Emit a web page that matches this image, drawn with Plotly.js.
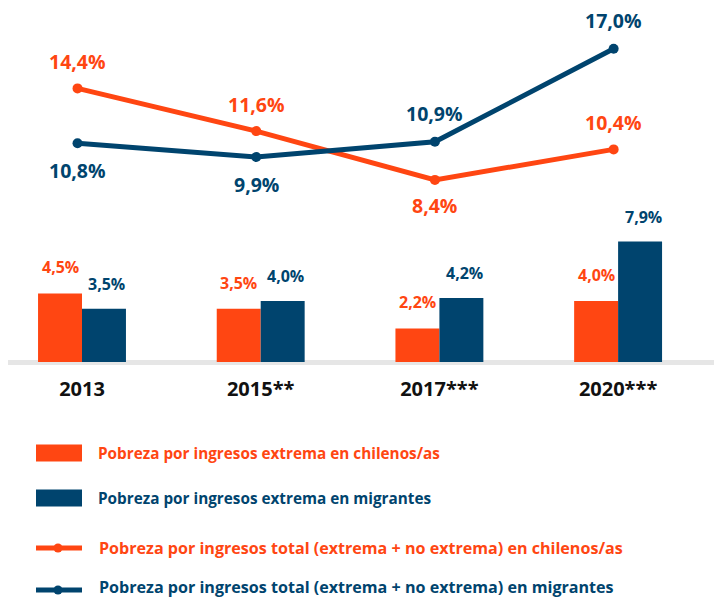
<!DOCTYPE html>
<html>
<head>
<meta charset="utf-8">
<script src="https://cdn.plot.ly/plotly-3.0.1.min.js"></script>
<style>html,body{margin:0;padding:0;background:#fff;}#chart{width:714px;height:597px;}</style>
</head>
<body>
<div id="chart"></div>
<script>
// ---- data ----
const categories = ['2013', '2015**', '2017***', '2020***'];
const extremaChilenos = [4.5, 3.5, 2.2, 4.0];
const extremaMigrantes = [3.5, 4.0, 4.2, 7.9];
const totalChilenos = [14.4, 11.6, 8.4, 10.4];
const totalMigrantes = [10.8, 9.9, 10.9, 17.0];
const seriesNames = [
  'Pobreza por ingresos extrema en chilenos/as',
  'Pobreza por ingresos extrema en migrantes',
  'Pobreza por ingresos total (extrema + no extrema) en chilenos/as',
  'Pobreza por ingresos total (extrema + no extrema) en migrantes'
];

// ---- style ----
const ORANGE = '#FF4612';
const BLUE = '#00446E';
const FONT = 'Open Sans, Noto Sans, sans-serif';
const W = 714, H = 597;
const M = {l: 8, r: 0, t: 0, b: 233};
const plotW = W - M.l - M.r, plotH = H - M.t - M.b;
const pxPerUnitY = 15.25;
const barW = 0.246;
const lineShift = -0.025;
// side of line labels: 1 above, -1 below
const sideChilenos = [1, 1, -1, 1];
const sideMigrantes = [-1, -1, 1, 1];

const xIdx = categories.map((c, i) => i);
const fmt = v => v.toFixed(1).replace('.', ',') + '%';

const traces = [
  {type: 'bar', x: xIdx, y: extremaChilenos, width: barW, offset: -barW,
   marker: {color: ORANGE}, name: seriesNames[0], hoverinfo: 'none'},
  {type: 'bar', x: xIdx, y: extremaMigrantes, width: barW, offset: 0,
   marker: {color: BLUE}, name: seriesNames[1], hoverinfo: 'none'},
  {type: 'scatter', mode: 'lines+markers', x: xIdx.map(i => i + lineShift), y: totalChilenos,
   yaxis: 'y2', line: {color: ORANGE, width: 5}, marker: {color: ORANGE, size: 10},
   name: seriesNames[2], hoverinfo: 'none'},
  {type: 'scatter', mode: 'lines+markers', x: xIdx.map(i => i + lineShift), y: totalMigrantes,
   yaxis: 'y2', line: {color: BLUE, width: 5}, marker: {color: BLUE, size: 10},
   name: seriesNames[3], hoverinfo: 'none'}
];

const annotations = [];
// bar labels
xIdx.forEach(i => {
  annotations.push({x: i - barW / 2, y: extremaChilenos[i], xref: 'x', yref: 'y',
    text: fmt(extremaChilenos[i]), showarrow: false, yanchor: 'middle', yshift: 26,
    font: {family: FONT, size: 16, color: ORANGE, weight: 'bold'}});
  annotations.push({x: i + barW / 2, y: extremaMigrantes[i], xref: 'x', yref: 'y',
    text: fmt(extremaMigrantes[i]), showarrow: false, yanchor: 'middle', yshift: 25, xshift: 3,
    font: {family: FONT, size: 16, color: BLUE, weight: 'bold'}});
});
// line labels
xIdx.forEach(i => {
  annotations.push({x: i + lineShift, y: totalChilenos[i], xref: 'x', yref: 'y2',
    text: fmt(totalChilenos[i]), showarrow: false, yanchor: 'middle',
    yshift: sideChilenos[i] > 0 ? 27 : -26,
    font: {family: FONT, size: 19.5, color: ORANGE, weight: 'bold'}});
  annotations.push({x: i + lineShift, y: totalMigrantes[i], xref: 'x', yref: 'y2',
    text: fmt(totalMigrantes[i]), showarrow: false, yanchor: 'middle',
    yshift: sideMigrantes[i] > 0 ? 28 : -27,
    font: {family: FONT, size: 19.5, color: BLUE, weight: 'bold'}});
});

// legend (manual) in pixel -> paper coords
const px = X => (X - M.l) / plotW;
const py = Y => (H - M.b - Y) / plotH;
const legendColors = [ORANGE, BLUE, ORANGE, BLUE];
const legendRowY = [453, 498, 548, 587];
const legendFont = [15.3, 15.3, 16.1, 16.1];
const shapes = [];
legendRowY.forEach((Y, k) => {
  const c = legendColors[k];
  if (k < 2) {
    shapes.push({type: 'rect', xref: 'paper', yref: 'paper', x0: px(36), x1: px(82),
      y0: py(Y - 8.5), y1: py(Y + 8.5), fillcolor: c, line: {width: 0}});
  } else {
    const Yl = k === 3 ? 590 : Y;
    shapes.push({type: 'line', xref: 'paper', yref: 'paper', x0: px(36), x1: px(82),
      y0: py(Yl), y1: py(Yl), line: {color: c, width: 5}});
    shapes.push({type: 'circle', xref: 'paper', yref: 'paper', x0: px(53.5), x1: px(62.5),
      y0: py(Yl - 4.5), y1: py(Yl + 4.5), fillcolor: c, line: {width: 0}});
  }
  annotations.push({xref: 'paper', yref: 'paper', x: px(k < 2 ? 97 : 98), y: py(Y), xanchor: 'left',
    yanchor: 'middle', showarrow: false, text: seriesNames[k], borderpad: 0,
    font: {family: FONT, size: legendFont[k], color: c, weight: 'bold'}});
});

const layout = {
  width: W, height: H,
  margin: M,
  paper_bgcolor: '#fff', plot_bgcolor: '#fff',
  showlegend: false,
  barmode: 'overlay',
  xaxis: {
    range: [(M.l - 82) / 178.7, (M.l - 82) / 178.7 + plotW / 178.7],
    tickmode: 'array', tickvals: xIdx, ticktext: categories,
    showgrid: false, zeroline: false, showline: false, ticks: '',
    ticklabelstandoff: 11,
    tickfont: {family: FONT, size: 20, color: '#111', weight: 'bold'},
    fixedrange: true
  },
  yaxis: {
    range: [-2 / pxPerUnitY, (plotH - 2) / pxPerUnitY],
    showgrid: false, showticklabels: false, ticks: '',
    zeroline: true, zerolinecolor: '#e6e6e6', zerolinewidth: 5,
    fixedrange: true
  },
  yaxis2: {
    overlaying: 'y', side: 'right',
    range: [-(plotH - 308) / pxPerUnitY, 308 / pxPerUnitY],
    showgrid: false, showticklabels: false, ticks: '', zeroline: false,
    fixedrange: true
  },
  annotations: annotations,
  shapes: shapes
};

Plotly.newPlot('chart', traces, layout, {displayModeBar: false, staticPlot: true});
</script>
</body>
</html>
